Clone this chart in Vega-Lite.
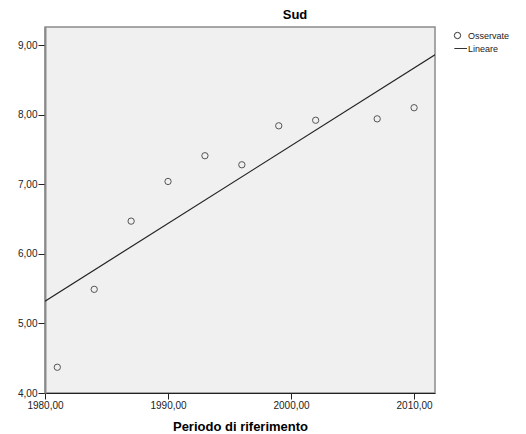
{
  "$schema": "https://vega.github.io/schema/vega-lite/v6.json",
  "autosize": {"type": "none"},
  "width": 390,
  "height": 366,
  "padding": {"left": 45, "top": 27, "right": 91, "bottom": 41},
  "background": "white",
  "title": {"text": "Sud", "font": "Liberation Sans", "fontSize": 13, "fontWeight": "bold", "color": "#000", "dx": 55, "offset": 5},
  "config": {
    "view": {"stroke": "#8a8a8a", "strokeWidth": 1.5, "fill": "#f0f0f0"},
    "axis": {"grid": false, "labelFont": "Liberation Sans", "labelFontSize": 10, "labelColor": "#222", "titleFont": "Liberation Sans", "titleColor": "#000"}
  },
  "layer": [
    {
      "data": {"values": [
        {"anno": 1981, "valore": 4.37, "serie": "Osservate"},
        {"anno": 1984, "valore": 5.49, "serie": "Osservate"},
        {"anno": 1987, "valore": 6.47, "serie": "Osservate"},
        {"anno": 1990, "valore": 7.04, "serie": "Osservate"},
        {"anno": 1993, "valore": 7.41, "serie": "Osservate"},
        {"anno": 1996, "valore": 7.28, "serie": "Osservate"},
        {"anno": 1999, "valore": 7.84, "serie": "Osservate"},
        {"anno": 2002, "valore": 7.92, "serie": "Osservate"},
        {"anno": 2007, "valore": 7.94, "serie": "Osservate"},
        {"anno": 2010, "valore": 8.10, "serie": "Osservate"}
      ]},
      "mark": {"type": "point", "filled": false, "stroke": "#555", "strokeWidth": 1, "size": 40, "opacity": 1},
      "encoding": {
        "x": {"field": "anno", "type": "quantitative",
          "scale": {"domain": [1980, 2011.7], "nice": false, "zero": false},
          "axis": {"values": [1980, 1990, 2000, 2010], "labelExpr": "replace(format(datum.value, '.2f'), '.', ',')",
            "title": "Periodo di riferimento", "titleFontSize": 13, "titleFontWeight": "bold", "titlePadding": 10,
            "domainColor": "#222", "domainWidth": 1, "tickColor": "#222", "tickSize": 6, "labelPadding": 1, "labelFlush": false}},
        "y": {"field": "valore", "type": "quantitative",
          "scale": {"domain": [4, 9.26], "nice": false, "zero": false},
          "axis": {"values": [4, 5, 6, 7, 8, 9], "labelExpr": "replace(format(datum.value, '.2f'), '.', ',')",
            "title": null, "domainColor": "#8a8a8a", "domainWidth": 2, "tickColor": "#222", "tickSize": 7, "labelPadding": 1}},
        "shape": {"field": "serie", "type": "nominal",
          "scale": {"domain": ["Osservate", "Lineare"], "range": ["circle", "M-1,0H3"]},
          "legend": {"title": null, "orient": "none", "legendX": 408, "legendY": 4,
            "labelFont": "Liberation Sans", "labelFontSize": 9, "labelColor": "#222", "labelOffset": 6,
            "symbolFillColor": "transparent", "symbolStrokeColor": "#333", "symbolStrokeWidth": 1, "symbolSize": 40,
            "rowPadding": 3, "padding": 0}}
      }
    },
    {
      "data": {"values": [
        {"anno": 1980, "valore": 5.32, "serie": "Lineare"},
        {"anno": 2011.7, "valore": 8.86, "serie": "Lineare"}
      ]},
      "mark": {"type": "line", "color": "#222", "strokeWidth": 1.2, "clip": true},
      "encoding": {
        "x": {"field": "anno", "type": "quantitative"},
        "y": {"field": "valore", "type": "quantitative"}
      }
    }
  ]
}
